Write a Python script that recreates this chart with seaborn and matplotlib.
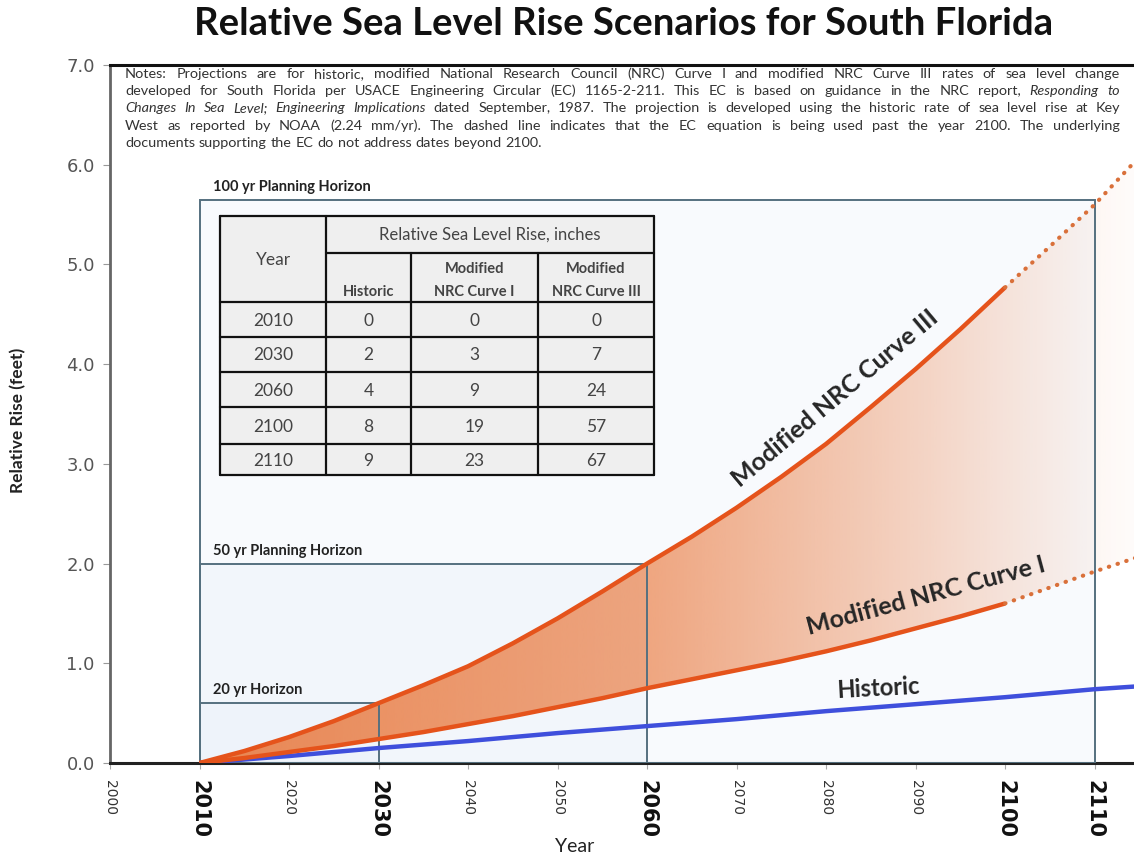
# Relative sea level rise scenarios for South Florida (USACE EC 1165-2-211)

import numpy as np
import pandas as pd
import seaborn as sns
import matplotlib.pyplot as plt
from matplotlib.patches import Rectangle
from matplotlib.lines import Line2D
from matplotlib.transforms import Affine2D
from matplotlib.colors import to_rgb

# Curve values (feet)
years = [2010, 2015, 2020, 2025, 2030, 2035, 2040, 2045, 2050, 2055, 2060, 2065,
         2070, 2075, 2080, 2085, 2090, 2095, 2100, 2105, 2110, 2115]
historic = [0.0, 0.035, 0.07, 0.11, 0.15, 0.185, 0.22, 0.26, 0.30, 0.335, 0.37, 0.405,
            0.44, 0.48, 0.52, 0.555, 0.59, 0.625, 0.66, 0.70, 0.74, 0.77]
curve_1 = [0.0, 0.05, 0.11, 0.17, 0.24, 0.31, 0.39, 0.47, 0.56, 0.65, 0.75, 0.84,
           0.93, 1.02, 1.12, 1.23, 1.35, 1.47, 1.60, 1.76, 1.92, 2.07]
curve_3 = [0.0, 0.12, 0.26, 0.42, 0.60, 0.78, 0.97, 1.20, 1.45, 1.72, 2.00, 2.27,
           2.56, 2.87, 3.20, 3.57, 3.95, 4.35, 4.77, 5.18, 5.60, 6.08]
solid_end = 2100

# Planning horizons
horizon_end = [2110, 2060, 2030]
horizon_top = [5.65, 2.0, 0.6]
horizon_label = ["100 yr Planning Horizon", "50 yr Planning Horizon", "20 yr Horizon"]

# Table (inches)
table_years = [2010, 2030, 2060, 2100, 2110]
table_historic = [0, 2, 4, 8, 9]
table_curve_1 = [0, 3, 9, 19, 23]
table_curve_3 = [0, 7, 24, 57, 67]

# Tick labels
xticks = list(range(2000, 2111, 10))
bold_years = [2010, 2030, 2060, 2100, 2110]

notes = [
    [("Notes: Projections are for historic, modified National Research Council (NRC) Curve I and modified NRC Curve III rates of sea level change", "normal")],
    [("developed for South Florida per USACE Engineering Circular (EC) 1165-2-211. This EC is based on guidance in the NRC report,", "normal"),
     ("Responding to", "italic")],
    [("Changes In Sea Level; Engineering Implications", "italic"),
     ("dated September, 1987. The projection is developed using the historic rate of sea level rise at Key", "normal")],
    [("West as reported by NOAA (2.24 mm/yr). The dashed line indicates that the EC equation is being used past the year 2100. The underlying", "normal")],
    [("documents supporting the EC do not address dates beyond 2100.", "normal")],
]

W, H = 1134, 858
sns.set_style("white")
plt.rcParams['font.family'] = ['DejaVu Sans']
fig = plt.figure(figsize=(W / 100, H / 100), dpi=100)
ax = fig.add_axes([110 / W, (H - 763) / H, 1 - 110 / W, (763 - 65) / H])

# pixel (from top-left) -> figure
px = Affine2D().scale(1 / W, -1 / H).translate(0, 1) + fig.transFigure

# horizon boxes
for end, top in zip(horizon_end, horizon_top):
    ax.add_patch(Rectangle((2010, 0), end - 2010, top, facecolor="#e4eef8", alpha=0.25,
                           edgecolor="none", zorder=1))
    ax.add_patch(Rectangle((2010, 0), end - 2010, top, facecolor="none",
                           edgecolor="#55707f", lw=1.4, zorder=3))
for end, top, lab in zip(horizon_end, horizon_top, horizon_label):
    ax.text(2011.5, top + 0.06, lab, fontsize=10.5, fontweight="bold", family="Lato",
            color="#222222", va="bottom", ha="left", zorder=5)

# gradient fill between Curve I and Curve III
poly = ax.fill_between(years, curve_1, curve_3, facecolor="none", lw=0)
gx = np.linspace(0, 1, 400)
alpha = np.interp(gx, [0, 0.1, 0.48, 0.77, 0.86, 0.96, 1.0], [0.78, 0.72, 0.56, 0.26, 0.16, 0.05, 0.02])
img = np.zeros((1, 400, 4))
img[..., :3] = to_rgb("#e8641e")
img[..., 3] = alpha
im = ax.imshow(img, extent=(2010, 2114.5, 0, 7), aspect="auto", zorder=2, interpolation="bilinear")
im.set_clip_path(poly.get_paths()[0], transform=ax.transData)

# lines
df = pd.DataFrame({"year": years * 3,
                   "feet": historic + curve_1 + curve_3,
                   "scenario": ["Historic"] * len(years) + ["Curve I"] * len(years) + ["Curve III"] * len(years)})
palette = {"Historic": "#3f4fdc", "Curve I": "#e5531b", "Curve III": "#e5531b"}
solid = df[(df.scenario == "Historic") | (df.year <= solid_end)]
dotted = df[(df.scenario != "Historic") & (df.year >= solid_end)]
sns.lineplot(data=solid, x="year", y="feet", hue="scenario", palette=palette, lw=3.2,
             legend=False, ax=ax, zorder=4, solid_capstyle="butt")
sns.lineplot(data=dotted, x="year", y="feet", hue="scenario", palette={"Curve I": "#d9703a", "Curve III": "#d9703a"},
             lw=3, linestyle=(0, (0.1, 2.1)), dash_capstyle="round", legend=False, ax=ax, zorder=4)

# curve labels
ax.text(2081.0, 3.66, "Modified NRC Curve III", rotation=40, fontsize=18, fontweight="bold",
        family="Lato", ha="center", va="center", rotation_mode="anchor", zorder=5)
ax.text(2091.1, 1.68, "Modified NRC Curve I", rotation=15, fontsize=18, fontweight="bold",
        family="Lato", ha="center", va="center", rotation_mode="anchor", zorder=5)
ax.text(2085.8, 0.75, "Historic", rotation=3, fontsize=17, fontweight="bold",
        family="Lato", ha="center", va="center", rotation_mode="anchor", zorder=5)

# axes
ax.set_xlim(2000, 2114.4)
ax.set_ylim(0, 7)
ax.set_yticks(np.arange(0, 7.1, 1.0))
ax.set_yticklabels([f"{v:.1f}" for v in np.arange(0, 7.1, 1.0)], fontsize=13, color="#555555")
ax.set_xticks(xticks)
ax.set_xticklabels([str(y) for y in xticks], rotation=-90, va="top", ha="center")
for lab, y in zip(ax.get_xticklabels(), xticks):
    if y in bold_years:
        lab.set_fontsize(15)
        lab.set_fontweight("bold")
        lab.set_color("#111111")
    else:
        lab.set_fontsize(10)
        lab.set_color("#333333")
ax.tick_params(axis="y", left=True, length=5, color="#999999", pad=6)
ax.tick_params(axis="x", bottom=True, length=4, color="#aaaaaa", pad=8)
ax.set_xlabel("")
ax.set_ylabel("")
ax.spines["right"].set_visible(False)
ax.spines["top"].set_color("#111111")
ax.spines["top"].set_linewidth(2.2)
ax.spines["bottom"].set_color("#222222")
ax.spines["bottom"].set_linewidth(2.2)
ax.spines["left"].set_color("#666666")
ax.spines["left"].set_linewidth(2)

fig.text(575, 846, "Year", transform=px, fontsize=14, family="Lato", ha="center", va="center", color="#222222")
fig.text(18, 420, "Relative Rise (feet)", transform=px, fontsize=12.5, family="Lato", fontweight="bold",
         rotation=90, ha="center", va="center", color="#222222")
fig.text(624, 24, "Relative Sea Level Rise Scenarios for South Florida", transform=px, fontsize=27.5,
         family="Lato", fontweight="bold", ha="center", va="center", color="#111111")

# table
cols = [220, 326, 411, 538, 654]
rows = [216, 253, 302, 337, 372, 407, 444, 475]
fig.add_artist(Rectangle((cols[0], rows[0]), cols[-1] - cols[0], rows[-1] - rows[0], transform=px,
                         facecolor="#efefef", edgecolor="none", zorder=6))
def hline(y, x0, x1):
    fig.add_artist(Line2D([x0, x1], [y, y], transform=px, color="#111111", lw=1.6, zorder=7))
def vline(x, y0, y1):
    fig.add_artist(Line2D([x, x], [y0, y1], transform=px, color="#111111", lw=1.6, zorder=7))
hline(rows[0], cols[0], cols[-1])
hline(rows[1], cols[1], cols[-1])
for r in rows[2:]:
    hline(r, cols[0], cols[-1])
vline(cols[0], rows[0], rows[-1])
vline(cols[1], rows[0], rows[-1])
for c in cols[2:-1]:
    vline(c, rows[1], rows[-1])
vline(cols[-1], rows[0], rows[-1])

tk = dict(transform=px, family="Lato", color="#444444", ha="center", va="center", zorder=8)
fig.text((cols[0] + cols[1]) / 2, 260, "Year", fontsize=12.5, **tk)
fig.text((cols[1] + cols[-1]) / 2, 235, "Relative Sea Level Rise, inches", fontsize=12, **tk)
fig.text((cols[1] + cols[2]) / 2, 292, "Historic", fontsize=10.5, fontweight="bold", **tk)
for c0, c1, name in [(cols[2], cols[3], "NRC Curve I"), (cols[3], cols[4], "NRC Curve III")]:
    fig.text((c0 + c1) / 2, 269, "Modified", fontsize=10.5, fontweight="bold", **tk)
    fig.text((c0 + c1) / 2, 292, name, fontsize=10.5, fontweight="bold", **tk)
for i, vals in enumerate(zip(table_years, table_historic, table_curve_1, table_curve_3)):
    yc = (rows[2 + i] + rows[3 + i]) / 2 + 1
    for j, v in enumerate(vals):
        fig.text((cols[j] + cols[j + 1]) / 2, yc, str(v), fontsize=12.5, **tk)

# notes, justified word by word
fig.canvas.draw()
renderer = fig.canvas.get_renderer()
x_left, x_right = 125, 1120
for i, line in enumerate(notes):
    yc = 74 + i * 17.2
    words = [(w, st) for seg, st in line for w in seg.split()]
    texts = [fig.text(0, 0, w, transform=px, fontsize=10.4, family="Lato", style=st,
                      color="#333333", ha="left", va="center") for w, st in words]
    widths = [t.get_window_extent(renderer).width for t in texts]
    if i < len(notes) - 1:
        gap = (x_right - x_left - sum(widths)) / (len(widths) - 1)
    else:
        gap = 4
    x = x_left
    for t, w in zip(texts, widths):
        t.set_position((x, yc))
        x += w + gap

fig.savefig("out.png", dpi=100)
